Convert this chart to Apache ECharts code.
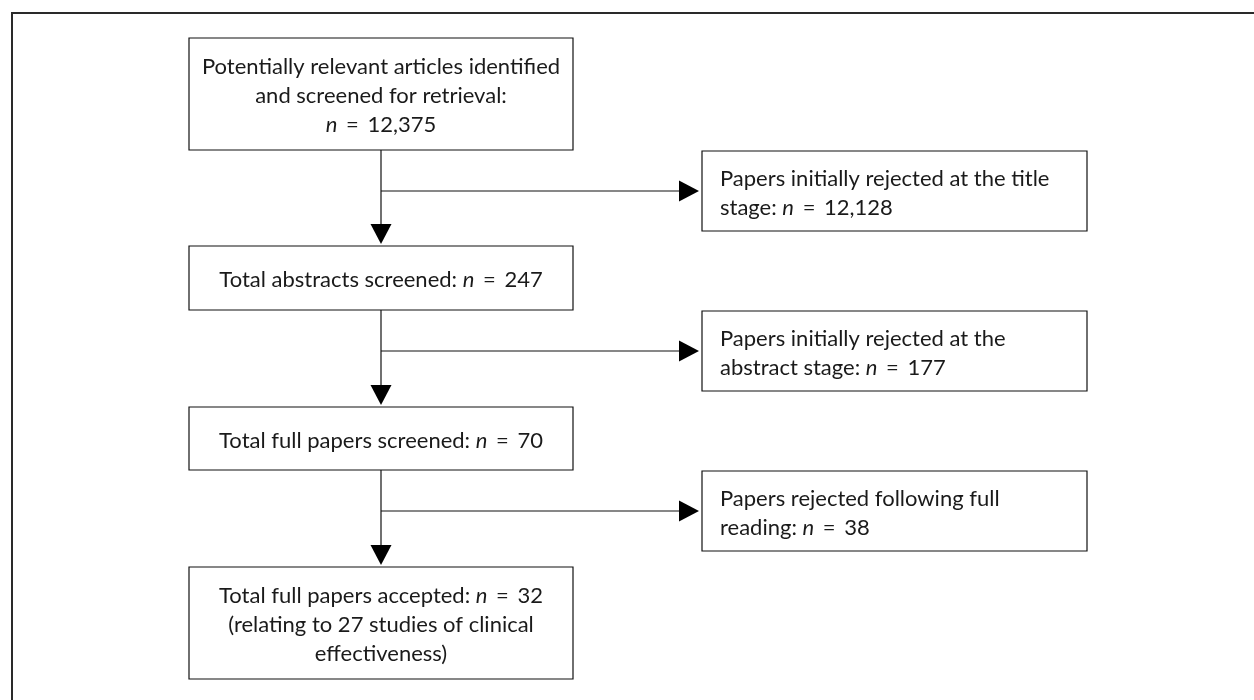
<!DOCTYPE html>
<html>
<head>
<meta charset="utf-8">
<script src="https://cdn.jsdelivr.net/npm/echarts@6/dist/echarts.min.js"></script>
<style>
  html, body { margin: 0; padding: 0; background: #fff; }
  #chart { width: 1254px; height: 700px; }
</style>
</head>
<body>
<div id="chart"></div>
<script>
// text of the main stages, '#' is where "n = count" goes
const stageText = [
  'Potentially relevant articles identified\nand screened for retrieval:\n#',
  'Total abstracts screened: #',
  'Total full papers screened: #',
  'Total full papers accepted: #\n(relating to 27 studies of clinical\neffectiveness)'
];
const stageCounts = [12375, 247, 70, 32];

// text of the rejection boxes
const rejectText = [
  'Papers initially rejected at the title\nstage: #',
  'Papers initially rejected at the\nabstract stage: #',
  'Papers rejected following full\nreading: #'
];
const rejectCounts = [12128, 177, 38];

// layout (pixel units on a hidden 1254 x 700 axis)
const mainCol = [189, 573];
const sideCol = [702, 1087];
const stageRows = [[38, 150], [246, 310], [407, 470], [567, 679]];
const rejectRows = [[151, 231], [311, 391], [471, 551]];

const FONT = 'Lato';
const FONT_SIZE = 22;
const TEXT_COLOR = '#1a1a1a';
const LINE_COLOR = '#111';

function fmtCount(v) {
  return v.toLocaleString('en-US');
}

function fillText(tpl, count) {
  return tpl.replace('#', '{i|n} {eq|=} ' + fmtCount(count));
}

let boxData = [];
for (var i = 0; i < stageText.length; i++) {
  boxData.push({
    value: [mainCol[0], stageRows[i][0], mainCol[1], stageRows[i][1]],
    text: fillText(stageText[i], stageCounts[i]),
    align: 'center'
  });
}
for (var j = 0; j < rejectText.length; j++) {
  boxData.push({
    value: [sideCol[0], rejectRows[j][0], sideCol[1], rejectRows[j][1]],
    text: fillText(rejectText[j], rejectCounts[j]),
    align: 'left'
  });
}

// connectors: vertical from each stage to the next, with a branch to the side box
let linkData = [];
const midX = (mainCol[0] + mainCol[1]) / 2;
for (var k = 0; k < rejectRows.length; k++) {
  let branchY = (rejectRows[k][0] + rejectRows[k][1]) / 2;
  linkData.push([midX, stageRows[k][1], stageRows[k + 1][0], branchY, sideCol[0]]);
}

function renderBox(params, api) {
  let item = boxData[params.dataIndex];
  let p0 = api.coord([api.value(0), api.value(1)]);
  let p1 = api.coord([api.value(2), api.value(3)]);
  let w = p1[0] - p0[0];
  let h = p1[1] - p0[1];
  let tx = item.align === 'center' ? p0[0] + w / 2 : p0[0] + 18;
  return {
    type: 'group',
    children: [
      {
        type: 'rect',
        shape: { x: p0[0], y: p0[1], width: w, height: h },
        style: { fill: '#fff', stroke: LINE_COLOR, lineWidth: 1.2 }
      },
      {
        type: 'text',
        x: tx,
        y: p0[1] + h / 2 + 2,
        style: {
          text: item.text,
          fill: TEXT_COLOR,
          fontFamily: FONT,
          fontSize: FONT_SIZE,
          lineHeight: 29,
          align: item.align,
          verticalAlign: 'middle',
          rich: {
            i: { fontStyle: 'italic', fontFamily: FONT, fontSize: FONT_SIZE, fill: TEXT_COLOR, lineHeight: 29 },
            eq: { fontFamily: FONT, fontSize: FONT_SIZE, fill: TEXT_COLOR, padding: [0, 3], lineHeight: 29 }
          }
        }
      }
    ]
  };
}

function renderLink(params, api) {
  let x = api.value(0);
  let top = api.coord([x, api.value(1)]);
  let bottom = api.coord([x, api.value(2)]);
  let branch = api.coord([x, api.value(3)]);
  let sideEnd = api.coord([api.value(4), api.value(3)]);
  let headLen = 20;
  let headHalf = 10.5;
  let downTip = bottom[1] - 2;
  let sideTip = sideEnd[0] - 3;
  let lineStyle = { stroke: LINE_COLOR, lineWidth: 1.2, fill: null };
  return {
    type: 'group',
    children: [
      {
        type: 'line',
        shape: { x1: top[0], y1: top[1], x2: top[0], y2: downTip - headLen + 1 },
        style: lineStyle
      },
      {
        type: 'polygon',
        shape: {
          points: [
            [top[0] - headHalf, downTip - headLen],
            [top[0] + headHalf, downTip - headLen],
            [top[0], downTip]
          ]
        },
        style: { fill: '#000' }
      },
      {
        type: 'line',
        shape: { x1: branch[0], y1: branch[1], x2: sideTip - headLen + 1, y2: branch[1] },
        style: lineStyle
      },
      {
        type: 'polygon',
        shape: {
          points: [
            [sideTip - headLen, branch[1] - headHalf],
            [sideTip - headLen, branch[1] + headHalf],
            [sideTip, branch[1]]
          ]
        },
        style: { fill: '#000' }
      }
    ]
  };
}

// outer frame: left and top edges only (rest is cropped in the figure)
const frameData = [[12, 700, 12, 13, 1254, 13]];

function renderFrame(params, api) {
  let a = api.coord([api.value(0), api.value(1)]);
  let b = api.coord([api.value(2), api.value(3)]);
  let c = api.coord([api.value(4), api.value(5)]);
  return {
    type: 'polyline',
    shape: { points: [a, b, c] },
    style: { stroke: '#2a2a2a', lineWidth: 2, fill: null }
  };
}

var myChart = echarts.init(document.getElementById('chart'));
myChart.setOption({
  animation: false,
  backgroundColor: '#fff',
  grid: { left: 0, right: 0, top: 0, bottom: 0 },
  xAxis: { type: 'value', min: 0, max: 1254, show: false },
  yAxis: { type: 'value', min: 0, max: 700, inverse: true, show: false },
  series: [
    {
      type: 'custom',
      name: 'frame',
      renderItem: renderFrame,
      data: frameData,
      silent: true
    },
    {
      type: 'custom',
      name: 'links',
      renderItem: renderLink,
      data: linkData,
      silent: true
    },
    {
      type: 'custom',
      name: 'boxes',
      renderItem: renderBox,
      data: boxData,
      silent: true
    }
  ]
});
</script>
</body>
</html>
